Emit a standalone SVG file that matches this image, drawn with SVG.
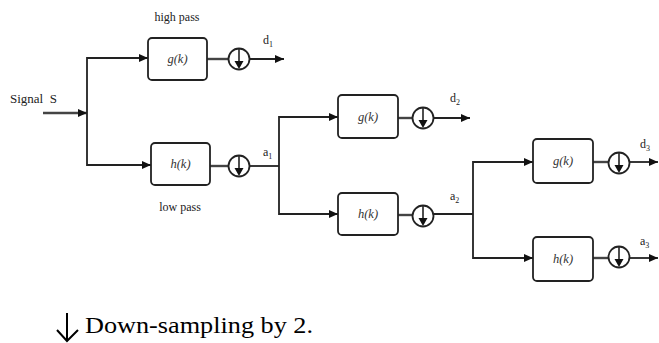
<svg xmlns="http://www.w3.org/2000/svg" xmlns:xlink="http://www.w3.org/1999/xlink" width="659" height="343" viewBox="0 0 659 343">
  <style>
    .wire { fill: none; stroke: #222; stroke-width: 1.8; }
    .stub { fill: none; stroke: #444; stroke-width: 2.4; }
    .box { fill: #fff; stroke: #222; stroke-width: 1.8; }
    .fn { font-family: "Liberation Serif", "DejaVu Serif", serif; font-style: italic; font-size: 12.5px; fill: #333; text-anchor: middle; }
    .lbl { font-family: "Liberation Serif", serif; font-size: 12px; fill: #222; }
    .sub { font-size: 8px; }
    .note { font-family: "Liberation Serif", serif; font-size: 24px; fill: #000; }
  </style>
  <defs>
    <marker id="arr" markerUnits="userSpaceOnUse" markerWidth="10" markerHeight="8" refX="9" refY="4" orient="auto">
      <path d="M0,0 L9,4 L0,8 z" fill="#111"/>
    </marker>
    <!-- down-sampler: circle with a downward arrow inside -->
    <g id="ds">
      <circle cx="0" cy="0" r="10.5" fill="#fff" stroke="#222" stroke-width="1.8"/>
      <line x1="0" y1="-10" x2="0" y2="3" stroke="#222" stroke-width="1.6"/>
      <path d="M-4.5,2 L4.5,2 L0,10 z" fill="#111"/>
    </g>
  </defs>

  <!-- connectors -->
  <g id="connectors">
    <line class="stub" x1="43" y1="113" x2="87" y2="113" marker-end="url(#arr)"/>
    <polyline class="wire" points="148,58 87,58 87,165 151,165"/>
    <line class="wire" x1="87" y1="58" x2="148" y2="58" marker-end="url(#arr)"/>
    <line class="wire" x1="87" y1="165" x2="151" y2="165" marker-end="url(#arr)"/>
    <line class="stub" x1="207" y1="59" x2="229" y2="59"/>
    <line class="wire" x1="250" y1="59" x2="284" y2="59" marker-end="url(#arr)"/>
    <line class="stub" x1="210" y1="166" x2="229" y2="166"/>
    <line class="wire" x1="250" y1="166" x2="279" y2="166"/>

    <polyline class="wire" points="338,117 279,117 279,214 338,214"/>
    <line class="wire" x1="279" y1="117" x2="338" y2="117" marker-end="url(#arr)"/>
    <line class="wire" x1="279" y1="214" x2="338" y2="214" marker-end="url(#arr)"/>
    <line class="stub" x1="398" y1="118" x2="413" y2="118"/>
    <line class="wire" x1="434" y1="118" x2="470" y2="118" marker-end="url(#arr)"/>
    <line class="stub" x1="398" y1="215" x2="413" y2="215"/>
    <line class="wire" x1="434" y1="214" x2="473" y2="214"/>

    <polyline class="wire" points="533,162 473,162 473,258 533,258"/>
    <line class="wire" x1="473" y1="162" x2="533" y2="162" marker-end="url(#arr)"/>
    <line class="wire" x1="473" y1="258" x2="533" y2="258" marker-end="url(#arr)"/>
    <line class="stub" x1="593" y1="162" x2="609" y2="162"/>
    <line class="wire" x1="630" y1="162" x2="658" y2="162" marker-end="url(#arr)"/>
    <line class="stub" x1="593" y1="258" x2="609" y2="258"/>
    <line class="wire" x1="630" y1="258" x2="658" y2="258" marker-end="url(#arr)"/>
  </g>

  <!-- input -->
  <g id="input">
    <text class="lbl" x="10" y="103" style="font-size:13px" xml:space="preserve">Signal  S</text>
  </g>

  <!-- level 1 -->
  <g id="g1">
    <text class="lbl" x="177" y="21" text-anchor="middle">high pass</text>
    <rect class="box" x="148" y="38" width="59" height="42" rx="4"/>
    <text class="fn" x="177.5" y="63">g(k)</text>
  </g>
  <g id="ds1"><use xlink:href="#ds" x="239" y="59"/></g>
  <g id="d1"><text class="lbl" x="263" y="44">d<tspan class="sub" dy="3">1</tspan></text></g>

  <g id="h1">
    <rect class="box" x="151" y="143" width="59" height="42" rx="4"/>
    <text class="fn" x="180.5" y="168">h(k)</text>
    <text class="lbl" x="180" y="211" text-anchor="middle">low pass</text>
  </g>
  <g id="ds2"><use xlink:href="#ds" x="239" y="166"/></g>
  <g id="a1"><text class="lbl" x="263" y="156">a<tspan class="sub" dy="3">1</tspan></text></g>

  <!-- level 2 -->
  <g id="g2">
    <rect class="box" x="338" y="95" width="60" height="43" rx="4"/>
    <text class="fn" x="368" y="121">g(k)</text>
  </g>
  <g id="ds3"><use xlink:href="#ds" x="423" y="118"/></g>
  <g id="d2"><text class="lbl" x="450" y="102">d<tspan class="sub" dy="3">2</tspan></text></g>

  <g id="h2">
    <rect class="box" x="338" y="193" width="60" height="42" rx="4"/>
    <text class="fn" x="368" y="218">h(k)</text>
  </g>
  <g id="ds4"><use xlink:href="#ds" x="423" y="216"/></g>
  <g id="a2"><text class="lbl" x="450" y="200">a<tspan class="sub" dy="3">2</tspan></text></g>

  <!-- level 3 -->
  <g id="g3">
    <rect class="box" x="533" y="139" width="60" height="44" rx="4"/>
    <text class="fn" x="563" y="165">g(k)</text>
  </g>
  <g id="ds5"><use xlink:href="#ds" x="619" y="163"/></g>
  <g id="d3"><text class="lbl" x="640" y="148">d<tspan class="sub" dy="3">3</tspan></text></g>

  <g id="h3">
    <rect class="box" x="533" y="237" width="60" height="44" rx="4"/>
    <text class="fn" x="563" y="263">h(k)</text>
  </g>
  <g id="ds6"><use xlink:href="#ds" x="619" y="257"/></g>
  <g id="a3"><text class="lbl" x="640" y="245">a<tspan class="sub" dy="3">3</tspan></text></g>

  <!-- legend -->
  <g id="legend">
    <path d="M67,313 V341 M57,330 L67,341 L78,330" fill="none" stroke="#000" stroke-width="2"/>
    <text class="note" x="85" y="333" textLength="228" lengthAdjust="spacingAndGlyphs">Down-sampling by 2.</text>
  </g>
</svg>
